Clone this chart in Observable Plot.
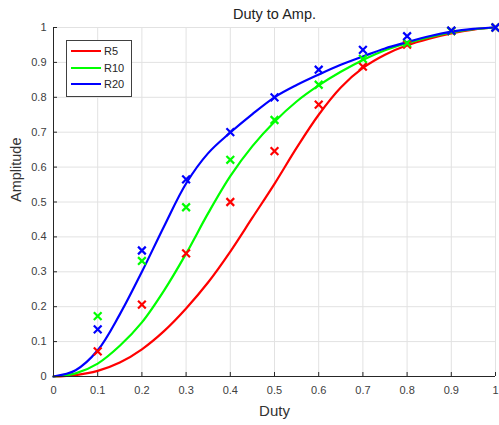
<!DOCTYPE html>
<html><head><meta charset="utf-8">
<script src="https://cdn.jsdelivr.net/npm/d3@7"></script>
<script src="https://cdn.jsdelivr.net/npm/@observablehq/plot@0.6"></script>
<style>
body{margin:0;background:#fff;font-family:"Liberation Sans",Arial,sans-serif;}
#wrap{position:relative;width:499px;height:425px;}
#legend{position:absolute;left:66px;top:40px;width:66px;height:57px;border:1px solid #404040;background:#fff;box-sizing:border-box;font-size:11px;color:#262626;}
.row{position:absolute;left:0;height:16px;display:flex;align-items:center;}
.sw{width:30px;height:2px;margin-left:4px;margin-right:3px;}
</style></head><body><div id="wrap"></div>
<script>
const title = "Duty to Amp.";
const xLabel = "Duty";
const yLabel = "Amplitude";
const seriesNames = ["R5", "R10", "R20"];
const seriesColors = ["#ff0000", "#00ff00", "#0000ff"];

// fitted curves
const curveDuty = [0, 0.05, 0.1, 0.15, 0.2, 0.25, 0.3, 0.35, 0.4, 0.45, 0.5, 0.55, 0.6, 0.65, 0.7, 0.75, 0.8, 0.85, 0.9, 0.95, 1.0];
const curveR5  = [0, 0.004, 0.016, 0.04, 0.078, 0.13, 0.195, 0.27, 0.358, 0.455, 0.552, 0.655, 0.75, 0.828, 0.884, 0.922, 0.949, 0.968, 0.983, 0.994, 1.0];
const curveR10 = [0, 0.009, 0.037, 0.088, 0.155, 0.246, 0.352, 0.468, 0.574, 0.66, 0.73, 0.788, 0.834, 0.873, 0.907, 0.935, 0.955, 0.972, 0.986, 0.995, 1.0];
const curveR20 = [0, 0.018, 0.075, 0.178, 0.30, 0.43, 0.553, 0.64, 0.699, 0.752, 0.80, 0.835, 0.865, 0.893, 0.917, 0.94, 0.958, 0.975, 0.988, 0.996, 1.0];

// measured points (x markers)
const markDuty = [0.1, 0.2, 0.3, 0.4, 0.5, 0.6, 0.7, 0.8, 0.9, 1.0];
const markR5  = [0.072, 0.206, 0.353, 0.50, 0.646, 0.779, 0.888, 0.951, 0.99, 1.0];
const markR10 = [0.173, 0.331, 0.485, 0.621, 0.735, 0.836, 0.910, 0.955, 0.99, 1.0];
const markR20 = [0.135, 0.361, 0.565, 0.70, 0.80, 0.879, 0.936, 0.975, 0.991, 1.0];

const xTicks = [0, 0.1, 0.2, 0.3, 0.4, 0.5, 0.6, 0.7, 0.8, 0.9, 1];
const yTicks = [0, 0.1, 0.2, 0.3, 0.4, 0.5, 0.6, 0.7, 0.8, 0.9, 1];

const curves = [curveR5, curveR10, curveR20];
const marksV = [markR5, markR10, markR20];
const curveRows = [];
const markRows = [];
seriesNames.forEach((s, i) => {
  curveDuty.forEach((d, j) => curveRows.push({duty: d, amp: curves[i][j], series: s}));
  markDuty.forEach((d, j) => markRows.push({duty: d, amp: marksV[i][j], series: s}));
});

const W = 499, H = 425, mL = 53, mR = 4, mT = 27, mB = 49;
const axisColor = "#262626";
const tickLen = 4;

const chart = Plot.plot({
  width: W, height: H,
  marginLeft: mL, marginRight: mR, marginTop: mT, marginBottom: mB,
  x: {domain: [0, 1], label: null},
  y: {domain: [0, 1], label: null},
  color: {domain: seriesNames, range: seriesColors},
  style: {fontFamily: '"Liberation Sans", Arial, sans-serif', fontSize: "11px", color: "#333", background: "white"},
  marks: [
    Plot.gridX(xTicks, {stroke: "#e2e2e2", strokeOpacity: 1}),
    Plot.gridY(yTicks, {stroke: "#e2e2e2", strokeOpacity: 1}),
    Plot.line(curveRows, {x: "duty", y: "amp", z: "series", stroke: "series", strokeWidth: 2.2, curve: "catmull-rom"}),
    Plot.dot(markRows, {x: "duty", y: "amp", stroke: "series", symbol: "times", r: 3.6, strokeWidth: 2.2}),
    Plot.ruleY([0], {stroke: axisColor}),
    Plot.ruleX([0], {stroke: axisColor}),
    Plot.tickX(xTicks, {x: d => d, insetTop: H - mT - mB - tickLen, stroke: axisColor}),
    Plot.tickY(yTicks, {y: d => d, insetRight: W - mL - mR - tickLen, stroke: axisColor}),
    Plot.axisX(xTicks, {tickSize: 0, tickPadding: 10, label: null, tickFormat: d => String(d), fill: "#404040"}),
    Plot.axisY(yTicks, {tickSize: 0, tickPadding: 7, label: null, tickFormat: d => String(d), fill: "#404040"}),
    Plot.text([title], {frameAnchor: "top", dy: -13, lineAnchor: "middle", fontSize: 14.5, fill: "#222"}),
    Plot.text([xLabel], {frameAnchor: "bottom", dy: 35, lineAnchor: "middle", fontSize: 15, fill: "#333"}),
    Plot.text([yLabel], {frameAnchor: "left", dx: -37, rotate: -90, lineAnchor: "middle", fontSize: 14.5, fill: "#333"})
  ]
});

const wrap = document.getElementById("wrap");
wrap.appendChild(chart);

const legend = document.createElement("div");
legend.id = "legend";
seriesNames.forEach((s, i) => {
  const row = document.createElement("div");
  row.className = "row";
  row.style.top = (2 + i * 16.6) + "px";
  const sw = document.createElement("span");
  sw.className = "sw";
  sw.style.background = seriesColors[i];
  const t = document.createElement("span");
  t.textContent = s;
  row.appendChild(sw);
  row.appendChild(t);
  legend.appendChild(row);
});
wrap.appendChild(legend);
</script>
</body></html>
